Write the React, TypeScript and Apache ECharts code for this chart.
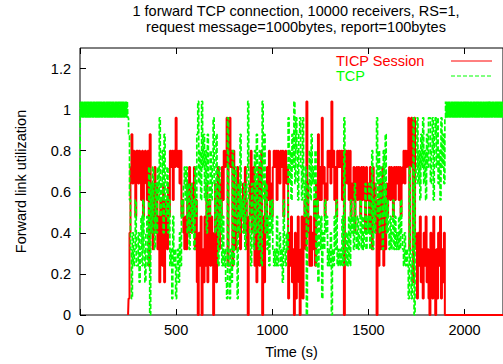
import { useEffect, useRef } from "react";
import * as echarts from "echarts";

// Sampling grid of the utilization traces (seconds)
const SAMPLE_START = 250;
const SAMPLE_STEP = 5;
const BAND_STEP = 2.5;
const TAIL_START = 1902.5;
const TIME_MAX = 2200;

const FONT = "'Liberation Sans', Arial, Helvetica, sans-serif";
const FONT_SIZE = 14.5;
const RED = "#ff0000";
const GREEN = "#00ff00";

const titleLines = [
  "1 forward TCP connection, 10000 receivers, RS=1,",
  "request message=1000bytes, report=100bytes",
];

const seriesNames = ["TICP Session", "TCP"];

// TICP Session utilization, every 5 s from t = 250 s to t = 1900 s
const ticpSession = [
  0, 0.08, 0.4, 0.72, 0.88, 0.64, 0.8, 0.72, 0.48, 0.8,
  0.8, 0.64, 0.8, 0.72, 0.56, 0.8, 0.48, 0.72, 0.8, 0.64,
  0.56, 0.8, 0.24, 0.88, 0.4, 0.64, 0.32, 0.56, 0.72, 0.4,
  0.64, 0.32, 0.48, 0.16, 0.56, 0.4, 0.24, 0.64, 0.16, 0.48,
  0.56, 0.32, 0.64, 0.48, 0.8, 0.72, 0.8, 0.56, 0.8, 0.72,
  0.96, 0.8, 0.72, 0.8, 0.64, 0.8, 0.48, 0.56, 0.4, 0.32,
  0.48, 0.32, 0.64, 0.4, 0.72, 0.56, 0.4, 0.64, 0.48, 0.72,
  0.32, 0.56, 0.16, 0, 0.4, 0.24, 0.48, 0, 0.32, 0.16,
  0.48, 0.24, 0.64, 0.16, 0.4, 0.56, 0.24, 0.48, 0.32, 0,
  0.4, 0.64, 0.16, 0.56, 0.72, 0.32, 0.64, 0.48, 0.72, 0.56,
  0.8, 0.72, 0.8, 0.96, 0.24, 0.8, 0.96, 0.72, 0.8, 0.24,
  0.8, 0.64, 0.32, 0.56, 0.72, 0.4, 0.64, 0.32, 0.56, 0.48,
  0.64, 0.4, 0.72, 0.56, 0.32, 0, 0.48, 0.64, 0.8, 0.4,
  0.56, 0.72, 0.24, 0.64, 0.16, 0.48, 0.72, 0.24, 0.56, 0.8,
  0, 0.48, 0.16, 0.64, 0.4, 0.72, 0.56, 0.8, 0.48, 0.64,
  0.48, 0.72, 0.8, 0.72, 0.8, 0.56, 0.8, 0.72, 0.64, 0.8,
  0.72, 0.8, 0.48, 0.72, 0.8, 0.64, 0.72, 0.08, 0.4, 0.24,
  0.48, 0.16, 0.32, 0, 0.4, 0.08, 0.24, 0.48, 0.16, 0,
  0.32, 0.48, 0.08, 0.4, 0.56, 0.32, 1.04, 0.64, 0.4, 0.24,
  0.48, 0.24, 0.4, 0.32, 0.56, 0.24, 0.64, 0.48, 0.88, 0.56,
  0.72, 0.56, 0.96, 0.64, 0.72, 0.48, 0.64, 0.56, 0.8, 0.72,
  0.8, 0.64, 1.04, 0.72, 0.8, 0.56, 0.72, 0.48, 0.8, 0.72,
  0.8, 0.72, 0.8, 0.56, 0.8, 0, 0.72, 0.8, 0.64, 0.8,
  0.56, 0.8, 0.48, 0.64, 0.56, 0.72, 0.4, 0.64, 0.72, 0.56,
  0.72, 0.64, 0.48, 0.72, 0.56, 0.72, 0.64, 0.4, 0.72, 0.56,
  0.64, 0.4, 0.72, 0.56, 0.32, 0.72, 0.48, 0.64, 0.4, 0,
  0.56, 0.24, 0.64, 0.32, 0.48, 0.72, 0.24, 0.56, 0.32, 0.64,
  0.48, 0.64, 0.72, 0.56, 0.72, 0.64, 0.48, 0.72, 0.56, 0.72,
  0.64, 0.72, 0.56, 0.72, 0.48, 0.64, 0.72, 0.8, 0.64, 0.8,
  0.72, 0.8, 0.96, 0.32, 0.8, 0.96, 0.72, 0.16, 0.96, 0.4,
  0.32, 0.08, 0.4, 0.24, 0.48, 0.16, 0.32, 0.08, 0.4, 0.24,
  0.48, 0.16, 0.32, 0.08, 0, 0.4, 0.24, 0.08, 0.48, 0.16,
  0, 0.32, 0.08, 0.4, 0.24, 0.48, 0.08, 0.32, 0.16, 0.4,
  0,
];

// TCP utilization, every 5 s from t = 250 s to t = 1900 s
const tcp = [
  0.96, 0.88, 0.56, 0.32, 0.08, 0.4, 0.24, 0.32, 0.56, 0.24,
  0.24, 0.4, 0.16, 0.32, 0.48, 0.24, 0.56, 0.32, 0.16, 0.4,
  0.48, 0.24, 0.72, 0, 0.64, 0.4, 0.72, 0.48, 0.32, 0.64,
  0.4, 0.72, 0.56, 0.96, 0.48, 0.64, 0.8, 0.4, 0.88, 0.56,
  0.48, 0.72, 0.4, 0.56, 0.24, 0.32, 0.08, 0.48, 0.24, 0.32,
  0.08, 0.24, 0.32, 0.16, 0.4, 0.24, 0.56, 0.48, 0.64, 0.72,
  0.56, 0.72, 0.4, 0.64, 0.32, 0.48, 0.64, 0.4, 0.56, 0.32,
  0.72, 0.48, 0.88, 1.04, 0.64, 0.8, 0.56, 1.04, 0.72, 0.88,
  0.56, 0.8, 0.4, 0.88, 0.64, 0.48, 0.8, 0.56, 0.72, 0.96,
  0.64, 0.4, 0.88, 0.48, 0.24, 0.72, 0.4, 0.56, 0.24, 0.48,
  0.24, 0.32, 0.16, 0.08, 0.96, 0.24, 0.08, 0.32, 0.16, 0.8,
  0.24, 0.4, 0.72, 0.48, 0.08, 0.64, 0.4, 0.88, 0.48, 0.56,
  0.4, 0.64, 0.32, 0.48, 0.72, 1.04, 0.56, 0.4, 0.24, 0.64,
  0.48, 0.32, 0.8, 0.4, 0.88, 0.56, 0.32, 0.8, 0.48, 0.24,
  1.04, 0.56, 0.88, 0.4, 0.64, 0.32, 0.48, 0.24, 0.56, 0.4,
  0.56, 0.32, 0.24, 0.32, 0.24, 0.48, 0.24, 0.32, 0.4, 0.24,
  0.32, 0.16, 0.56, 0.32, 0.24, 0.4, 0.32, 0.96, 0.64, 0.8,
  0.56, 0.88, 0.72, 1.04, 0.64, 0.96, 0.8, 0.56, 0.88, 0.96,
  0.72, 0.56, 0.96, 0.64, 0.48, 0.72, 0, 0.4, 0.64, 0.8,
  0.56, 0.88, 0.64, 0.72, 0.48, 0.8, 0.24, 0.56, 0.16, 0.48,
  0.32, 0.48, 0.08, 0.4, 0.32, 0.56, 0.4, 0.48, 0.24, 0.32,
  0.24, 0.4, 0, 0.32, 0.24, 0.48, 0.32, 0.56, 0.24, 0.32,
  0.24, 0.32, 0.24, 0.48, 0.24, 0.96, 0.32, 0.24, 0.4, 0.24,
  0.48, 0.24, 0.56, 0.4, 0.48, 0.32, 0.64, 0.4, 0.32, 0.48,
  0.32, 0.4, 0.56, 0.32, 0.48, 0.32, 0.4, 0.64, 0.32, 0.48,
  0.4, 0.64, 0.32, 0.48, 0.8, 0.32, 0.56, 0.4, 0.64, 0.96,
  0.48, 0.8, 0.4, 0.72, 0.56, 0.32, 0.8, 0.48, 0.88, 0.4,
  0.56, 0.4, 0.32, 0.48, 0.32, 0.4, 0.56, 0.32, 0.48, 0.32,
  0.4, 0.32, 0.48, 0.32, 0.56, 0.4, 0.32, 0.24, 0.4, 0.24,
  0.32, 0.24, 0.08, 0.72, 0.24, 0.08, 0.32, 0.96, 0, 0.64,
  0.72, 0.96, 0.64, 0.8, 0.56, 0.88, 0.72, 0.96, 0.64, 0.8,
  0.56, 0.88, 0.72, 0.96, 0.96, 0.64, 0.8, 0.96, 0.56, 0.88,
  0.96, 0.72, 0.96, 0.64, 0.8, 0.56, 0.96, 0.72, 0.88, 0.64,
  0.96,
];

// TCP alone on the link: every 2.5 s from t = 0 s to t = 247.5 s
const tcpHead = [
  0.4, 1.04, 0.96, 1.04, 0.96, 1.04, 0.96, 1.04, 0.96, 1.04,
  0.96, 1.04, 0.96, 1.04, 0.96, 1.04, 0.96, 1.04, 0.96, 1.04,
  0.96, 1.04, 0.96, 1.04, 0.96, 1.04, 0.96, 1.04, 0.96, 1.04,
  0.96, 1.04, 0.96, 1.04, 0.96, 1.04, 0.96, 1.04, 0.96, 1.04,
  0.96, 1.04, 0.96, 1.04, 0.96, 1.04, 0.96, 1.04, 0.96, 1.04,
  0.96, 1.04, 0.96, 1.04, 0.96, 1.04, 0.96, 1.04, 0.96, 1.04,
  0.96, 1.04, 0.96, 1.04, 0.96, 1.04, 0.96, 1.04, 0.96, 1.04,
  0.96, 1.04, 0.96, 1.04, 0.96, 1.04, 0.96, 1.04, 0.96, 1.04,
  0.96, 1.04, 0.96, 1.04, 0.96, 1.04, 0.96, 1.04, 0.96, 1.04,
  0.96, 1.04, 0.96, 1.04, 0.96, 1.04, 0.96, 1.04, 0.96, 1.04,
];

// TCP alone on the link again: every 2.5 s from t = 1902.5 s to t = 2200 s
const tcpTail = [
  1.04, 0.96, 1.04, 0.96, 1.04, 0.96, 1.04, 0.96, 1.04, 0.96,
  1.04, 0.96, 1.04, 0.96, 1.04, 0.96, 1.04, 0.96, 1.04, 0.96,
  1.04, 0.96, 1.04, 0.96, 1.04, 0.96, 1.04, 0.96, 1.04, 0.96,
  1.04, 0.96, 1.04, 0.96, 1.04, 0.96, 1.04, 0.96, 1.04, 0.96,
  1.04, 0.96, 1.04, 0.96, 1.04, 0.96, 1.04, 0.96, 1.04, 0.96,
  1.04, 0.96, 1.04, 0.96, 1.04, 0.96, 1.04, 0.96, 1.04, 0.96,
  1.04, 0.96, 1.04, 0.96, 1.04, 0.96, 1.04, 0.96, 1.04, 0.96,
  1.04, 0.96, 1.04, 0.96, 1.04, 0.96, 1.04, 0.96, 1.04, 0.96,
  1.04, 0.96, 1.04, 0.96, 1.04, 0.96, 1.04, 0.96, 1.04, 0.96,
  1.04, 0.96, 1.04, 0.96, 1.04, 0.96, 1.04, 0.96, 1.04, 0.96,
  1.04, 0.96, 1.04, 0.96, 1.04, 0.96, 1.04, 0.96, 1.04, 0.96,
  1.04, 0.96, 1.04, 0.96, 1.04, 0.96, 1.04, 0.96, 1.04, 0.96,
];

// TICP session is idle (zero) after it finishes
const ticpIdleTail = [0];

function toPairs(values: number[], start: number, step: number): number[][] {
  return values.map((v, i) => [start + i * step, v]);
}

export default function App() {
  const ref = useRef<HTMLDivElement>(null);

  useEffect(() => {
    if (!ref.current) return;
    const chart = echarts.init(ref.current, null, { renderer: "svg" });

    const ticpData = [
      ...toPairs(ticpSession, SAMPLE_START, SAMPLE_STEP),
      ...ticpIdleTail.map((v) => [TIME_MAX, v]),
    ];
    const tcpData = [
      ...toPairs(tcpHead, 0, BAND_STEP),
      ...toPairs(tcp, SAMPLE_START, SAMPLE_STEP),
      ...toPairs(tcpTail, TAIL_START, BAND_STEP),
    ];

    const tickStyle = { inside: true, length: 6, lineStyle: { color: "#000", width: 1 } };
    const labelStyle = { color: "#000", fontSize: FONT_SIZE, fontFamily: FONT };
    const plainNumber = (v: number) => String(v);
    const font = `${FONT_SIZE}px ${FONT}`;

    // key: label text on the left, line sample on the right
    const keyRows = [
      { name: seriesNames[0], color: RED, dash: [] as number[], y: 61 },
      { name: seriesNames[1], color: GREEN, dash: [4, 2], y: 76 },
    ];
    const keyGraphics = keyRows.flatMap((row) => [
      {
        type: "text",
        x: 336,
        y: row.y,
        style: {
          text: row.name,
          align: "left",
          verticalAlign: "middle",
          fill: row.color,
          font,
        },
      },
      {
        type: "line",
        shape: { x1: 451, y1: row.y, x2: 492, y2: row.y },
        style: row.dash.length
          ? { stroke: row.color, lineWidth: 1, lineDash: row.dash }
          : { stroke: row.color, lineWidth: 1 },
      },
    ]);

    chart.setOption({
      animation: false,
      backgroundColor: "#fff",
      color: [RED, GREEN],
      grid: {
        left: 80,
        right: -8,
        top: 48,
        bottom: 49,
        show: true,
        borderColor: "#000",
        borderWidth: 1,
        backgroundColor: "transparent",
      },
      graphic: [
        ...titleLines.map((line, i) => ({
          type: "text",
          x: 296,
          y: 10.5 + i * 16.5,
          style: {
            text: line,
            align: "center",
            verticalAlign: "middle",
            fill: "#000",
            font,
          },
        })),
        ...keyGraphics,
      ],
      xAxis: [
        {
          type: "value",
          position: "bottom",
          min: 0,
          max: TIME_MAX,
          interval: 500,
          axisLine: { show: false },
          axisTick: tickStyle,
          axisLabel: { ...labelStyle, margin: 7, showMaxLabel: false, formatter: plainNumber },
          splitLine: { show: false },
          name: "Time (s)",
          nameLocation: "middle",
          nameGap: 29,
          nameTextStyle: labelStyle,
        },
        {
          type: "value",
          position: "top",
          min: 0,
          max: TIME_MAX,
          interval: 500,
          axisLine: { show: false },
          axisTick: tickStyle,
          axisLabel: { show: false },
          splitLine: { show: false },
        },
      ],
      yAxis: {
        type: "value",
        min: 0,
        max: 1.3,
        interval: 0.2,
        axisLine: { show: false },
        axisTick: tickStyle,
        axisLabel: { ...labelStyle, margin: 9, showMaxLabel: false, formatter: plainNumber },
        splitLine: { show: false },
        name: "Forward link utilization",
        nameLocation: "middle",
        nameGap: 52,
        nameRotate: 90,
        nameTextStyle: labelStyle,
      },
      series: [
        {
          name: seriesNames[0],
          type: "line",
          data: ticpData,
          symbol: "none",
          step: "middle",
          lineStyle: { color: RED, width: 2 },
          itemStyle: { color: RED },
          z: 2,
        },
        {
          name: seriesNames[1],
          type: "line",
          data: tcpData,
          symbol: "none",
          step: "middle",
          lineStyle: { color: GREEN, width: 1.7, type: [5, 2] },
          itemStyle: { color: GREEN },
          z: 3,
        },
      ],
    });

    return () => chart.dispose();
  }, []);

  return (
    <div
      ref={ref}
      style={{ position: "fixed", left: 0, top: 0, width: 503, height: 364, background: "#fff" }}
    />
  );
}
